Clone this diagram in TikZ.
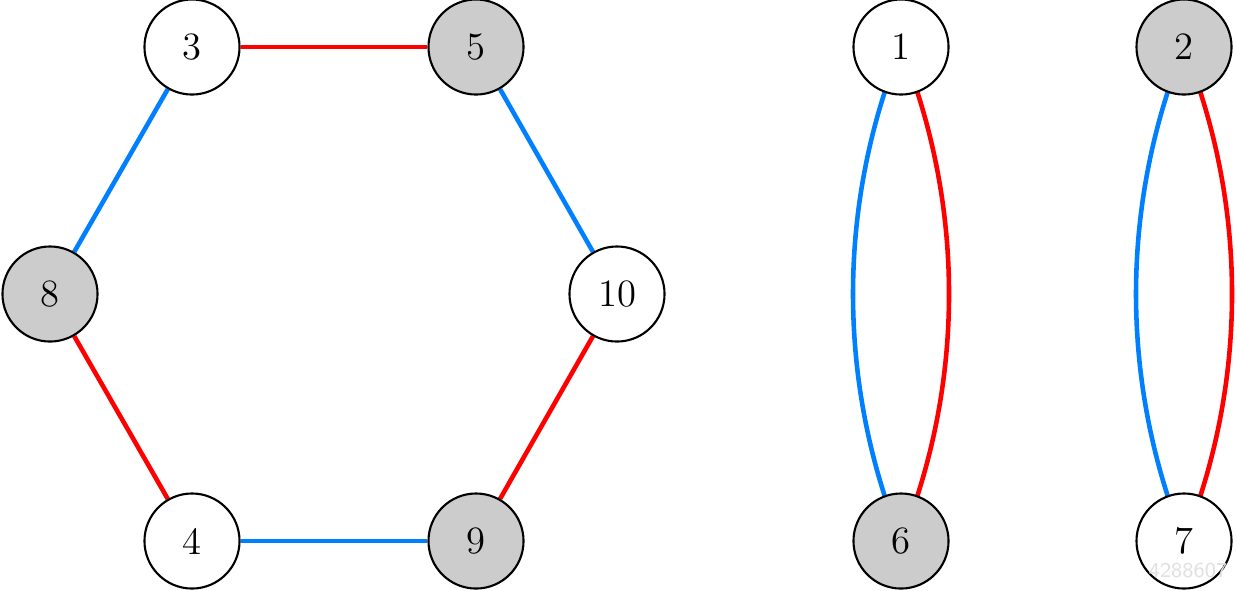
\documentclass[tikz,border=0pt]{standalone}
\usepackage{fontspec}
\usetikzlibrary{backgrounds}
\definecolor{eblue}{RGB}{0,128,255}
\definecolor{ered}{RGB}{255,0,0}
\definecolor{nfill}{RGB}{204,204,204}
\begin{document}
\begin{tikzpicture}[x=0.01cm,y=-0.01cm,
  vtx/.style={circle,draw=black,line width=0.6pt,minimum size=0.95cm,inner sep=0pt,fill=white,font=\fontsize{11}{13}\selectfont},
  gvtx/.style={vtx,fill=nfill},
  bedge/.style={draw=eblue,line width=1.3pt},
  redge/.style={draw=ered,line width=1.3pt}]
\useasboundingbox (0,0) rectangle (1237,590);
\node[vtx]  (n3)  at (192,47)  {3};
\node[gvtx] (n5)  at (476,47)  {5};
\node[gvtx] (n8)  at (50,294)  {8};
\node[vtx]  (n10) at (617,294) {10};
\node[vtx]  (n4)  at (192,541) {4};
\node[gvtx] (n9)  at (476,541) {9};
\node[vtx]  (n1)  at (901,47)  {1};
\node[gvtx] (n6)  at (901,541) {6};
\node[gvtx] (n2)  at (1184,47) {2};
\node[vtx]  (n7)  at (1184,541) {7};
\begin{pgfonlayer}{background}
\path[redge] (n3) -- (n5);
\path[bedge] (n3) -- (n8);
\path[redge] (n8) -- (n4);
\path[bedge] (n4) -- (n9);
\path[redge] (n9) -- (n10);
\path[bedge] (n10) -- (n5);
\path[bedge] (n1.center) .. controls +(-64,158.5) and +(-64,-158.5) .. (n6.center);
\path[redge] (n1.center) .. controls +(64,158.5) and +(64,-158.5) .. (n6.center);
\path[bedge] (n2.center) .. controls +(-64,158.5) and +(-64,-158.5) .. (n7.center);
\path[redge] (n2.center) .. controls +(64,158.5) and +(64,-158.5) .. (n7.center);
\end{pgfonlayer}
\node[text=black!12,font=\sffamily\fontsize{6}{7}\selectfont,inner sep=0pt] (wm) at (1188,571) {4288607};
\end{tikzpicture}
\end{document}
